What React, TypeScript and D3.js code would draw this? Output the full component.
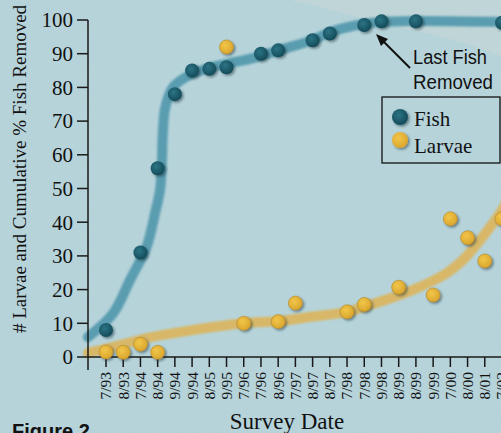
import React from 'react';
import * as d3 from 'd3';

const W = 501;
const H = 433;

const xLabels = ['7/93','8/93','7/94','8/94','9/94','9/94','8/95','9/95','7/96','7/96','8/96','7/97','8/97','8/97','7/98','7/98','9/98','8/99','8/99','9/99','7/00','8/00','8/01','7/02'];
const yTicks = [0,10,20,30,40,50,60,70,80,90,100];

const fishIndex = [0,2,3,4,5,6,7,9,10,12,13,15,16,18,23];
const fishValues = [8,31,56,78,85,85.5,86,90,91,94,96,98.5,99.6,99.6,99.2];

const larvaeIndex = [0,1,2,3,7,8,10,11,14,15,17,19,20,21,22,23];
const larvaeValues = [1.5,1.4,3.8,1.4,92,10,10.5,16,13.4,15.6,20.7,18.4,41,35.4,28.5,41];

// hand-fitted trend curves (position on date axis, value)
const fishTrendX = [-1.05,0.42,1.39,2.36,2.85,3.14,3.25,3.3,3.45,3.9,4.88,6.21,7.2,8.54,10.1,12.02,13.01,14.93,15.91,17.83,23.2];
const fishTrendY = [5.9,13,22.8,32.7,42.7,49.6,58.5,66.5,74.2,80.1,83.7,86.1,87.2,88.7,91.1,94.1,96.4,98.8,99.4,99.7,99.4];
const larvaeTrendX = [-1.05,0.41,2.36,4.3,6.21,8.17,10.1,12.02,13.98,15.91,17.83,19.79,20.74,21.73,22.69,23.3];
const larvaeTrendY = [1.2,3.0,5.6,7.4,8.9,10.1,10.7,12.0,13.4,16.4,19.9,24.9,28.8,34.7,41.2,46];

const legendItems = ['Fish', 'Larvae'];

const serif = '"Liberation Serif", "Times New Roman", Times, serif';
const sans = '"Liberation Sans", Arial, Helvetica, sans-serif';

export default function App() {
  const x = d3.scaleLinear().domain([0, 23]).range([106, 502]);
  const y = d3.scaleLinear().domain([0, 100]).range([357, 20]);
  const line = d3.line<[number, number]>()
    .x(d => x(d[0]))
    .y(d => y(d[1]))
    .curve(d3.curveCatmullRom.alpha(0.5));

  const fishTrend = fishTrendX.map((v, i) => [v, fishTrendY[i]] as [number, number]);
  const larvaeTrend = larvaeTrendX.map((v, i) => [v, larvaeTrendY[i]] as [number, number]);

  const fishColor = '#1b5c6c';
  const larvaeColor = '#e6b535';
  const axisColor = '#1a1a1a';

  return (
    <svg width={W} height={H} style={{ position: 'absolute', left: 0, top: 0 }}>
      <defs>
        <filter id="shadow" x="-60%" y="-60%" width="220%" height="220%">
          <feDropShadow dx="1.6" dy="1.6" stdDeviation="1.1" floodColor="#0b2a30" floodOpacity="0.5" />
        </filter>
        <filter id="soft" x="-10%" y="-10%" width="120%" height="120%">
          <feGaussianBlur stdDeviation="0.9" />
        </filter>
        <filter id="noise" x="0" y="0" width="100%" height="100%">
          <feTurbulence type="fractalNoise" baseFrequency="0.8" numOctaves="2" seed="3" />
          <feColorMatrix type="saturate" values="0" />
        </filter>
        <radialGradient id="fishGrad" cx="40%" cy="38%" r="65%">
          <stop offset="0%" stopColor="#2c7485" />
          <stop offset="100%" stopColor="#134a58" />
        </radialGradient>
        <radialGradient id="larvaeGrad" cx="40%" cy="38%" r="65%">
          <stop offset="0%" stopColor="#f1c64a" />
          <stop offset="100%" stopColor="#d9a52c" />
        </radialGradient>
      </defs>

      <rect x={0} y={0} width={W} height={H} fill="#b6d4db" />
      <rect x={0} y={0} width={W} height={H} filter="url(#noise)" opacity={0.06} />
      <path d="M290,0 C330,8 370,22 420,32 C450,38 480,48 501,56 L501,0 Z" fill="#d6d9d2" opacity={0.3} />

      {/* trend lines */}
      <path d={line(fishTrend) || ''} fill="none" stroke="#5a9db0" strokeWidth={10} strokeLinecap="round" filter="url(#soft)" />
      <path d={line(larvaeTrend) || ''} fill="none" stroke="#d8b867" strokeWidth={10} strokeLinecap="round" filter="url(#soft)" />

      {/* axes */}
      <line x1={88} x2={88} y1={y(100)} y2={370} stroke={axisColor} strokeWidth={1.5} />
      <line x1={88} x2={W} y1={y(0)} y2={y(0)} stroke={axisColor} strokeWidth={1.5} />
      {yTicks.map(t => (
        <g key={'y' + t}>
          <line x1={77} x2={88} y1={y(t)} y2={y(t)} stroke={axisColor} strokeWidth={1.5} />
          <text x={73} y={y(t)} dy="0.35em" textAnchor="end" fontFamily={serif} fontSize={21} fill="#111">{t}</text>
        </g>
      ))}
      {xLabels.map((l, i) => (
        <g key={'x' + i}>
          <line x1={x(i)} x2={x(i)} y1={y(0)} y2={367} stroke={axisColor} strokeWidth={1.5} />
          <text transform={`translate(${x(i)},372) rotate(-90)`} dy="0.35em" textAnchor="end" fontFamily={serif} fontSize={15.5} fill="#111">{l}</text>
        </g>
      ))}

      {/* points */}
      {larvaeIndex.map((xi, i) => (
        <circle key={'l' + i} cx={x(xi)} cy={y(larvaeValues[i])} r={7} fill="url(#larvaeGrad)" stroke="#b08a2e" strokeWidth={0.6} filter="url(#shadow)" />
      ))}
      {fishIndex.map((xi, i) => (
        <circle key={'f' + i} cx={x(xi)} cy={y(fishValues[i])} r={7} fill="url(#fishGrad)" filter="url(#shadow)" />
      ))}

      {/* axis titles */}
      <text transform="translate(26,169) rotate(-90)" textAnchor="middle" fontFamily={serif} fontSize={19} fill="#111"># Larvae and Cumulative % Fish Removed</text>
      <text x={287} y={429} textAnchor="middle" fontFamily={serif} fontSize={23} fill="#111">Survey Date</text>
      <text x={12} y={438} fontFamily={sans} fontWeight="bold" fontSize={20} fill="#111">Figure 2</text>

      {/* annotation */}
      <line x1={410} y1={68} x2={382} y2={40} stroke="#111" strokeWidth={2} />
      <path d="M376,34 L388,39 L381,46 Z" fill="#111" />
      <text x={413} y={64} fontFamily={sans} fontSize={20} textLength={74} lengthAdjust="spacingAndGlyphs" fill="#111">Last Fish</text>
      <text x={413} y={89} fontFamily={sans} fontSize={20} textLength={80} lengthAdjust="spacingAndGlyphs" fill="#111">Removed</text>

      {/* legend */}
      <rect x={382} y={97} width={118} height={66} fill="none" stroke="#111" strokeWidth={1.3} />
      {legendItems.map((name, i) => (
        <g key={name}>
          <circle cx={400} cy={117 + i * 23} r={8} fill={i === 0 ? 'url(#fishGrad)' : 'url(#larvaeGrad)'} filter="url(#shadow)" />
          <text x={414} y={126 + i * 26.5} fontFamily={serif} fontSize={21} fill="#111">{name}</text>
        </g>
      ))}
    </svg>
  );
}
